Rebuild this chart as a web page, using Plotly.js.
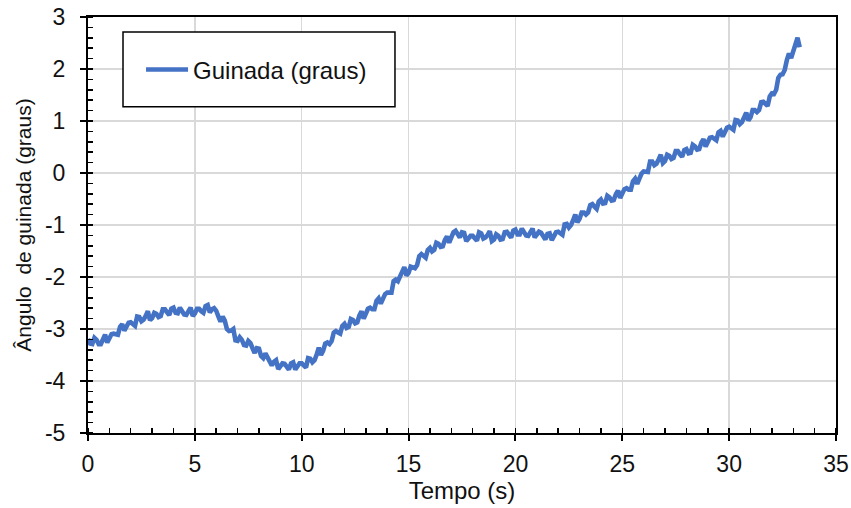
<!DOCTYPE html>
<html>
<head>
<meta charset="utf-8">
<script src="https://cdn.plot.ly/plotly-3.0.1.min.js"></script>
<style>html,body{margin:0;padding:0;background:#fff;}#chart{width:851px;height:508px;}</style>
</head>
<body>
<div id="chart"></div>
<script>
// Tempo (s)
var tempo = [
0.0,0.1,0.2,0.3,0.4,0.5,0.6,0.7,0.8,0.9,1.0,1.1,1.2,1.3,1.4,1.5,1.6,1.7,1.8,1.9,
2.0,2.1,2.2,2.3,2.4,2.5,2.6,2.7,2.8,2.9,3.0,3.1,3.2,3.3,3.4,3.5,3.6,3.7,3.8,3.9,
4.0,4.1,4.2,4.3,4.4,4.5,4.6,4.7,4.8,4.9,5.0,5.1,5.2,5.3,5.4,5.5,5.6,5.7,5.8,5.9,
6.0,6.1,6.2,6.3,6.4,6.5,6.6,6.7,6.8,6.9,7.0,7.1,7.2,7.3,7.4,7.5,7.6,7.7,7.8,7.9,
8.0,8.1,8.2,8.3,8.4,8.5,8.6,8.7,8.8,8.9,9.0,9.1,9.2,9.3,9.4,9.5,9.6,9.7,9.8,9.9,
10.0,10.1,10.2,10.3,10.4,10.5,10.6,10.7,10.8,10.9,11.0,11.1,11.2,11.3,11.4,11.5,11.6,11.7,11.8,11.9,
12.0,12.1,12.2,12.3,12.4,12.5,12.6,12.7,12.8,12.9,13.0,13.1,13.2,13.3,13.4,13.5,13.6,13.7,13.8,13.9,
14.0,14.1,14.2,14.3,14.4,14.5,14.6,14.7,14.8,14.9,15.0,15.1,15.2,15.3,15.4,15.5,15.6,15.7,15.8,15.9,
16.0,16.1,16.2,16.3,16.4,16.5,16.6,16.7,16.8,16.9,17.0,17.1,17.2,17.3,17.4,17.5,17.6,17.7,17.8,17.9,
18.0,18.1,18.2,18.3,18.4,18.5,18.6,18.7,18.8,18.9,19.0,19.1,19.2,19.3,19.4,19.5,19.6,19.7,19.8,19.9,
20.0,20.1,20.2,20.3,20.4,20.5,20.6,20.7,20.8,20.9,21.0,21.1,21.2,21.3,21.4,21.5,21.6,21.7,21.8,21.9,
22.0,22.1,22.2,22.3,22.4,22.5,22.6,22.7,22.8,22.9,23.0,23.1,23.2,23.3,23.4,23.5,23.6,23.7,23.8,23.9,
24.0,24.1,24.2,24.3,24.4,24.5,24.6,24.7,24.8,24.9,25.0,25.1,25.2,25.3,25.4,25.5,25.6,25.7,25.8,25.9,
26.0,26.1,26.2,26.3,26.4,26.5,26.6,26.7,26.8,26.9,27.0,27.1,27.2,27.3,27.4,27.5,27.6,27.7,27.8,27.9,
28.0,28.1,28.2,28.3,28.4,28.5,28.6,28.7,28.8,28.9,29.0,29.1,29.2,29.3,29.4,29.5,29.6,29.7,29.8,29.9,
30.0,30.1,30.2,30.3,30.4,30.5,30.6,30.7,30.8,30.9,31.0,31.1,31.2,31.3,31.4,31.5,31.6,31.7,31.8,31.9,
32.0,32.1,32.2,32.3,32.4,32.5,32.6,32.7,32.8,32.9,33.0,33.1,33.2,33.3];
// Guinada (graus)
var guinada = [
-3.19,-3.28,-3.29,-3.17,-3.21,-3.29,-3.29,-3.18,-3.11,-3.26,-3.19,-3.10,-3.09,-3.11,-3.11,-2.96,-2.91,-3.03,-2.96,-2.88,
-2.87,-2.91,-2.94,-2.76,-2.77,-2.85,-2.82,-2.75,-2.66,-2.83,-2.79,-2.69,-2.71,-2.77,-2.75,-2.62,-2.62,-2.68,-2.73,-2.61,
-2.59,-2.69,-2.70,-2.59,-2.64,-2.72,-2.73,-2.64,-2.59,-2.75,-2.70,-2.61,-2.61,-2.66,-2.69,-2.56,-2.54,-2.68,-2.62,-2.60,
-2.65,-2.76,-2.86,-2.76,-2.84,-3.00,-3.04,-3.03,-3.00,-3.22,-3.23,-3.16,-3.21,-3.31,-3.32,-3.23,-3.27,-3.37,-3.46,-3.37,
-3.38,-3.52,-3.56,-3.47,-3.55,-3.66,-3.70,-3.63,-3.60,-3.77,-3.73,-3.66,-3.67,-3.74,-3.78,-3.66,-3.64,-3.78,-3.72,-3.66,
-3.66,-3.71,-3.74,-3.56,-3.57,-3.64,-3.60,-3.49,-3.36,-3.50,-3.42,-3.28,-3.26,-3.29,-3.23,-3.07,-3.04,-3.07,-3.09,-2.94,
-2.90,-2.98,-2.96,-2.81,-2.83,-2.89,-2.87,-2.74,-2.66,-2.80,-2.72,-2.61,-2.59,-2.62,-2.62,-2.46,-2.41,-2.51,-2.42,-2.33,
-2.30,-2.31,-2.30,-2.08,-2.05,-2.08,-1.99,-1.91,-1.81,-1.97,-1.92,-1.80,-1.81,-1.83,-1.77,-1.60,-1.56,-1.60,-1.63,-1.48,
-1.44,-1.51,-1.48,-1.34,-1.36,-1.42,-1.41,-1.29,-1.22,-1.34,-1.25,-1.14,-1.11,-1.19,-1.24,-1.14,-1.15,-1.31,-1.27,-1.21,
-1.21,-1.26,-1.30,-1.14,-1.16,-1.26,-1.24,-1.19,-1.12,-1.31,-1.28,-1.18,-1.21,-1.28,-1.27,-1.14,-1.13,-1.19,-1.24,-1.11,
-1.09,-1.18,-1.18,-1.07,-1.12,-1.20,-1.21,-1.12,-1.07,-1.24,-1.19,-1.13,-1.15,-1.23,-1.28,-1.17,-1.16,-1.29,-1.22,-1.14,
-1.13,-1.17,-1.19,-0.99,-0.98,-1.05,-1.00,-0.91,-0.80,-0.95,-0.88,-0.76,-0.76,-0.80,-0.76,-0.62,-0.60,-0.65,-0.69,-0.55,
-0.51,-0.59,-0.58,-0.44,-0.47,-0.53,-0.52,-0.41,-0.34,-0.48,-0.41,-0.31,-0.29,-0.32,-0.32,-0.16,-0.11,-0.21,-0.11,-0.01,
0.03,0.02,0.02,0.22,0.22,0.15,0.18,0.26,0.35,0.19,0.23,0.35,0.33,0.27,0.29,0.42,0.42,0.36,0.31,0.44,
0.46,0.38,0.39,0.54,0.51,0.45,0.46,0.58,0.65,0.51,0.58,0.68,0.69,0.65,0.63,0.78,0.81,0.70,0.78,0.87,
0.89,0.86,0.83,1.02,1.01,0.94,0.98,1.07,1.16,1.01,1.07,1.21,1.21,1.17,1.21,1.36,1.37,1.33,1.29,1.47,
1.53,1.52,1.60,1.83,1.89,1.90,1.98,2.17,2.30,2.21,2.32,2.47,2.60,2.42];
var yTickVals = [-5,-4,-3,-2,-1,0,1,2,3];
var yTickText = ['-5','-4','-3','-2','-1','0','1','2','3'];
var xTickVals = [0,5,10,15,20,25,30,35];
var xTickText = ['0','5','10','15','20','25','30','35'];
var seriesName = 'Guinada (graus)';

var FONT = 'Liberation Sans, Arial, sans-serif';
var TXT = '#111111';
var trace = {
  x: tempo, y: guinada, type: 'scatter', mode: 'lines', name: seriesName,
  line: {color: '#4472c4', width: 4.6}
};
var layout = {
  width: 851, height: 508,
  margin: {l: 88, r: 15, t: 17, b: 75},
  paper_bgcolor: '#ffffff', plot_bgcolor: '#ffffff',
  font: {family: FONT, size: 23, color: TXT},
  showlegend: true,
  legend: {x: 0.0709, y: 0.873, xanchor: 'left', yanchor: 'middle', bgcolor: 'rgba(0,0,0,0)',
           itemwidth: 42, borderwidth: 0, font: {family: FONT, size: 24, color: TXT}},
  xaxis: {
    range: [0, 35], tickvals: xTickVals, ticktext: xTickText,
    showgrid: true, gridcolor: '#d9d9d9', gridwidth: 1.5,
    showline: true, linecolor: '#000', linewidth: 2, mirror: true,
    ticks: 'outside', ticklen: 6, tickwidth: 2, tickcolor: '#000', ticklabelstandoff: 3,
    minor: {dtick: 1, ticks: 'inside', ticklen: 5, tickwidth: 1.5, tickcolor: '#000', showgrid: false},
    zeroline: false,
    title: {text: 'Tempo (s)', font: {family: FONT, size: 24, color: TXT}, standoff: 7},
    tickfont: {family: FONT, size: 23, color: TXT}
  },
  yaxis: {
    range: [-5, 3], tickvals: yTickVals, ticktext: yTickText,
    showgrid: true, gridcolor: '#d9d9d9', gridwidth: 1.5,
    showline: true, linecolor: '#000', linewidth: 2, mirror: true,
    ticks: 'outside', ticklen: 6, tickwidth: 2, tickcolor: '#000', ticklabelstandoff: 10,
    minor: {dtick: 0.2, ticks: 'inside', ticklen: 5, tickwidth: 1.5, tickcolor: '#000', showgrid: false},
    zeroline: false,
    title: {text: 'Ângulo  de guinada (graus)', font: {family: FONT, size: 21, color: TXT}, standoff: 8},
    tickfont: {family: FONT, size: 23, color: TXT}
  },
  shapes: [{type: 'rect', xref: 'paper', yref: 'paper', x0: 0.0468, x1: 0.4104, y0: 0.784, y1: 0.964,
            line: {color: '#000', width: 1.5}, fillcolor: '#ffffff', layer: 'above'}]
};
Plotly.newPlot('chart', [trace], layout, {displayModeBar: false, staticPlot: true});
</script>
</body>
</html>
